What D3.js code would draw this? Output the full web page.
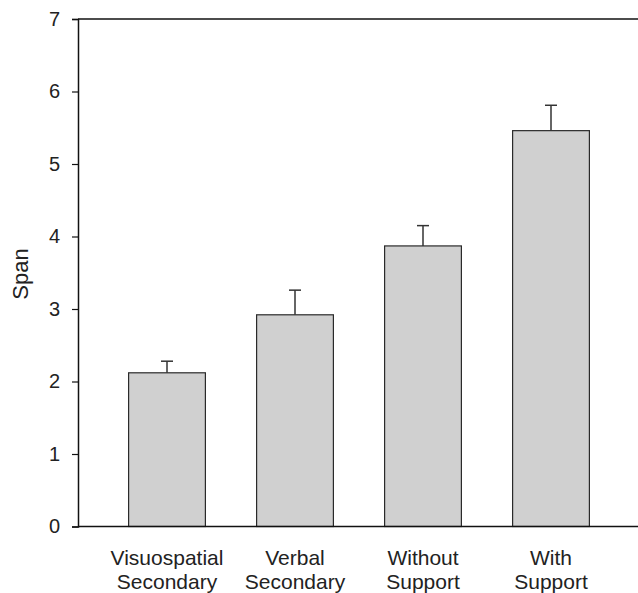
<!DOCTYPE html>
<html>
<head>
<meta charset="utf-8">
<script src="https://cdn.jsdelivr.net/npm/d3@7"></script>
<style>
  html, body { margin: 0; padding: 0; background: #fff; }
  svg { display: block; }
  text { font-family: "Liberation Sans", Arial, Helvetica, sans-serif; fill: #222; }
</style>
</head>
<body>
<svg id="chart" width="638" height="593"></svg>
<script>
const categories = [["Visuospatial", "Secondary"], ["Verbal", "Secondary"], ["Without", "Support"], ["With", "Support"]];
const means = [2.12, 2.92, 3.87, 5.46];
const errors = [0.16, 0.34, 0.28, 0.35];
const yTicks = [0, 1, 2, 3, 4, 5, 6, 7];
const yLabel = "Span";

const svg = d3.select("#chart");
const mLeft = 78, mRight = 638, mTop = 19, mBottom = 526.5;

const x = d3.scaleBand()
  .domain(d3.range(categories.length))
  .range([103, 615])
  .paddingInner(0.4)
  .paddingOuter(0.2);

const y = d3.scaleLinear().domain([0, 7]).range([mBottom, mTop]);

// Bars
svg.append("g").selectAll("rect")
  .data(means)
  .join("rect")
  .attr("x", (d, i) => x(i))
  .attr("y", d => y(d))
  .attr("width", x.bandwidth())
  .attr("height", d => y(0) - y(d))
  .attr("fill", "#d0d0d0")
  .attr("stroke", "#2a2a2a")
  .attr("stroke-width", 1.2);

// Error bars (upper only)
const eg = svg.append("g").attr("stroke", "#333").attr("stroke-width", 1.5);
eg.selectAll("line.v")
  .data(means)
  .join("line")
  .attr("class", "v")
  .attr("x1", (d, i) => x(i) + x.bandwidth() / 2)
  .attr("x2", (d, i) => x(i) + x.bandwidth() / 2)
  .attr("y1", d => y(d))
  .attr("y2", (d, i) => y(d + errors[i]));
eg.selectAll("line.c")
  .data(means)
  .join("line")
  .attr("class", "c")
  .attr("x1", (d, i) => x(i) + x.bandwidth() / 2 - 6)
  .attr("x2", (d, i) => x(i) + x.bandwidth() / 2 + 6)
  .attr("y1", (d, i) => y(d + errors[i]))
  .attr("y2", (d, i) => y(d + errors[i]));

// Y axis
const yAxis = d3.axisLeft(y).tickValues(yTicks).tickSize(6).tickPadding(12).tickFormat(d3.format("d"));
const ya = svg.append("g").attr("transform", `translate(${mLeft},0)`).call(yAxis);
ya.attr("font-size", null).attr("font-family", null);
ya.select(".domain").attr("stroke", "#111").attr("stroke-width", 1.5);
ya.selectAll(".tick line").attr("stroke", "#111").attr("stroke-width", 1.2);
ya.selectAll(".tick text").attr("font-size", "20px").attr("fill", "#222");

// Top and bottom frame lines
svg.append("line").attr("x1", mLeft).attr("x2", mRight).attr("y1", mTop).attr("y2", mTop)
  .attr("stroke", "#111").attr("stroke-width", 1.5);
svg.append("line").attr("x1", mLeft).attr("x2", mRight).attr("y1", mBottom).attr("y2", mBottom)
  .attr("stroke", "#111").attr("stroke-width", 1.5);

// Category labels
const lab = svg.append("g").selectAll("text")
  .data(categories)
  .join("text")
  .attr("text-anchor", "middle")
  .attr("font-size", "21px")
  .attr("x", (d, i) => x(i) + x.bandwidth() / 2)
  .attr("y", 565);
lab.selectAll("tspan")
  .data(d => d)
  .join("tspan")
  .attr("x", function() { return d3.select(this.parentNode).attr("x"); })
  .attr("dy", (d, j) => j === 0 ? 0 : 23.5)
  .text(d => d);

// Y label
svg.append("text")
  .attr("transform", `translate(28,274) rotate(-90)`)
  .attr("text-anchor", "middle")
  .attr("font-size", "22px")
  .text(yLabel);
</script>
</body>
</html>
